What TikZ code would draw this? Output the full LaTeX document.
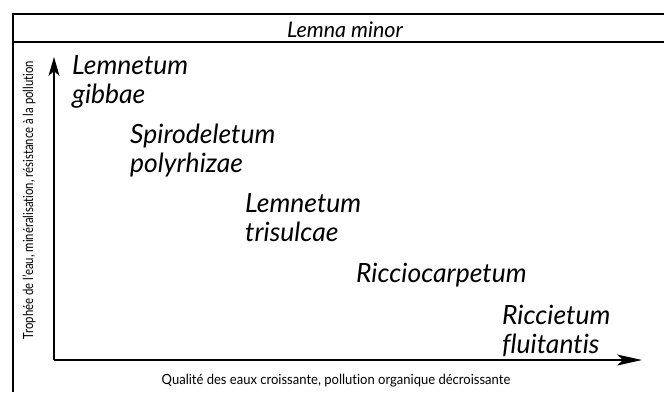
\documentclass[tikz,border=0pt]{standalone}
\usepackage{fontspec}
\usepackage{graphicx}
\setmainfont{Lato}[Ligatures={NoCommon}]
\usetikzlibrary{arrows.meta}
\tikzset{
  frameline/.style={line width=1.2pt},
  axisline/.style={line width=1.1pt},
  xarrow/.style={axisline,-{Stealth[length=25pt,width=11pt,inset=6pt]}},
  yarrow/.style={axisline,-{Stealth[length=19pt,width=11pt,inset=5pt]}},
  species/.style={anchor=base west,inner sep=0pt,align=left,font=\fontsize{26.5}{29}\selectfont\itshape},
  axislabel/.style={inner sep=0pt,font=\fontsize{14}{16}\selectfont},
}
\begin{document}
\begin{tikzpicture}[x=1pt,y=-1pt]
\useasboundingbox (0,0) rectangle (664,392);
\fill[white] (0,0) rectangle (664,392);
% frame
\draw[frameline] (13,392) -- (13,14) -- (664,14);
\draw[frameline] (13,42) -- (664,42);
\node[anchor=base,inner sep=0pt,font=\fontsize{21.5}{24}\selectfont\itshape] (title) at (345,37) {Lemna minor};
% axes
\coordinate (O) at (54,360);
\coordinate (Ytop) at (54,57);
\coordinate (Xend) at (642,360);
\draw[yarrow] (O) -- (Ytop);
\draw[xarrow] (O) -- (Xend);
% species
\node[species] (s1) at (72,103) {Lemnetum\\gibbae};
\node[species] (s2) at (130,172) {Spirodeletum\\polyrhizae};
\node[species] (s3) at (245,241) {Lemnetum\\trisulcae};
\node[species] (s4) at (356,282) {Ricciocarpetum};
\node[species] (s5) at (502,353) {Riccietum\\fluitantis};
% axis labels
\node[axislabel,rotate=90] (ylab) at (29,200) {\scalebox{0.81}[1]{Trophée de l'eau, minéralisation, résistance à la pollution}};
\node[axislabel] (xlab) at (336,381) {\scalebox{0.93}[1]{Qualité des eaux croissante, pollution organique décroissante}};
\end{tikzpicture}
\end{document}
